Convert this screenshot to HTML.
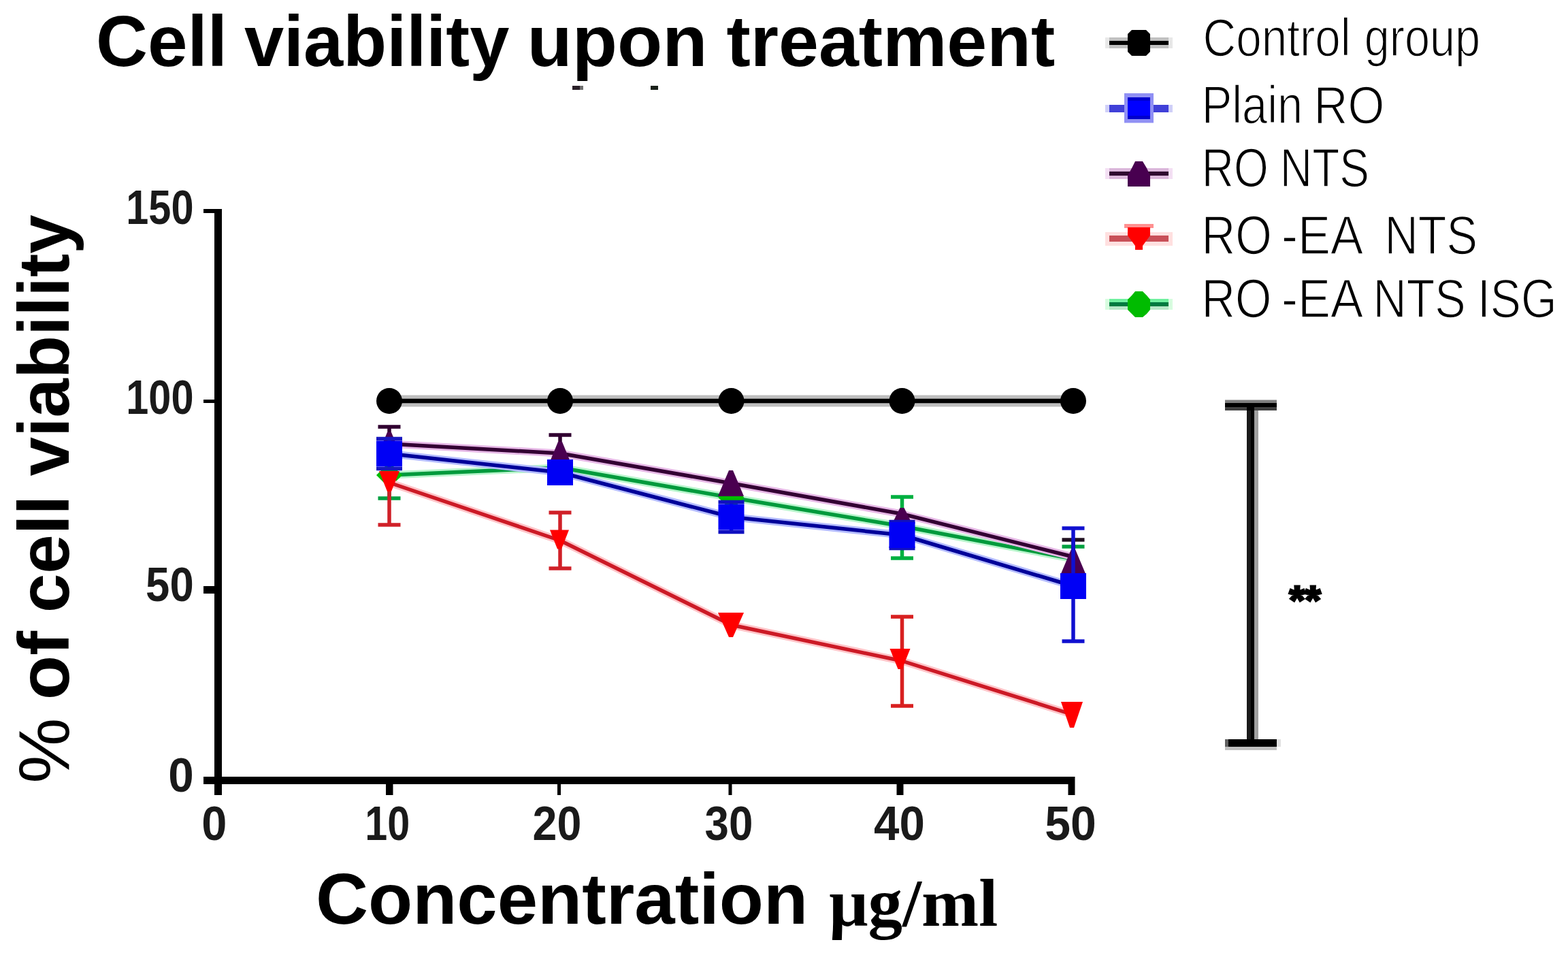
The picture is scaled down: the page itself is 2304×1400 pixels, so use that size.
<!DOCTYPE html>
<html>
<head>
<meta charset="utf-8">
<title>Cell viability upon treatment</title>
<style>
html,body{margin:0;padding:0;background:#fff;}
body{width:2304px;height:1400px;overflow:hidden;}
svg{display:block;}
.b{font-family:"Liberation Sans",Arial,sans-serif;font-weight:bold;}
.r{font-family:"Liberation Sans",Arial,sans-serif;font-weight:normal;}
.s{font-family:"Liberation Serif","Times New Roman",serif;font-weight:bold;}
</style>
</head>
<body>
<svg width="2304" height="1400" viewBox="0 0 2304 1400">
<rect x="0" y="0" width="2304" height="1400" fill="#fff"/>

<!-- Title -->
<text><tspan class="b" x="141.0" y="96.7" font-size="105.5" textLength="192.9" lengthAdjust="spacingAndGlyphs" fill="#000">Cell</tspan> <tspan class="b" x="358.9" y="96.7" font-size="105.5" textLength="389.4" lengthAdjust="spacingAndGlyphs" fill="#000">viability</tspan> <tspan class="b" x="774.4" y="96.7" font-size="105.5" textLength="265.2" lengthAdjust="spacingAndGlyphs" fill="#000">upon</tspan> <tspan class="b" x="1067.5" y="96.7" font-size="105.5" textLength="482.8" lengthAdjust="spacingAndGlyphs" fill="#000">treatment</tspan></text>
<rect x="841" y="126" width="11" height="6" fill="#2a2028"/>
<rect x="852" y="126" width="5" height="6" fill="#707070"/>
<rect x="956" y="126" width="11" height="6" fill="#1a201a"/>

<!-- Y axis label -->
<g transform="translate(0,1150) rotate(-90)">
<text><tspan class="r" x="-0.8" y="101" font-size="106" textLength="96.2" lengthAdjust="spacingAndGlyphs" fill="#000">%</tspan> <tspan class="b" x="121.7" y="101" font-size="106" textLength="101.2" lengthAdjust="spacingAndGlyphs" fill="#000">of</tspan> <tspan class="b" x="249.9" y="101" font-size="106" textLength="172.4" lengthAdjust="spacingAndGlyphs" fill="#000">cell</tspan> <tspan class="b" x="450.5" y="101" font-size="106" textLength="384.2" lengthAdjust="spacingAndGlyphs" fill="#000">viability</tspan></text>
</g>

<!-- X axis label -->
<text><tspan class="b" x="463.9" y="1357.2" font-size="106.5" textLength="723.3" lengthAdjust="spacingAndGlyphs" fill="#000">Concentration</tspan> <tspan class="s" x="1218.3" y="1359.5" font-size="100" textLength="248.0" lengthAdjust="spacingAndGlyphs" fill="#000">μg/ml</tspan></text>

<!-- Axes -->
<g fill="#000">
  <rect x="315" y="307" width="11" height="861"/>
  <rect x="299" y="1141" width="1280.5" height="11"/>
  <rect x="299" y="307" width="16" height="6"/>
  <rect x="299" y="587" width="16" height="5"/>
  <rect x="299" y="861" width="16" height="11"/>
  <rect x="567" y="1152" width="10.5" height="16"/>
  <rect x="819" y="1152" width="5" height="16"/>
  <rect x="1070.5" y="1152" width="5" height="16"/>
  <rect x="1317.5" y="1152" width="10" height="16"/>
  <rect x="1569.5" y="1152" width="10" height="16"/>
</g>

<!-- Tick labels -->
<text><tspan class="b" x="185.3" y="328.7" font-size="70" textLength="99.2" lengthAdjust="spacingAndGlyphs" fill="#1a1a1a">150</tspan></text>
<text><tspan class="b" x="185.3" y="608" font-size="70" textLength="99.2" lengthAdjust="spacingAndGlyphs" fill="#1a1a1a">100</tspan></text>
<text><tspan class="b" x="214.1" y="882.9" font-size="70" textLength="70.6" lengthAdjust="spacingAndGlyphs" fill="#1a1a1a">50</tspan></text>
<text><tspan class="b" x="247.3" y="1162.5" font-size="70" textLength="37.5" lengthAdjust="spacingAndGlyphs" fill="#1a1a1a">0</tspan></text>
<text><tspan class="b" x="296.3" y="1234" font-size="70" textLength="37.1" lengthAdjust="spacingAndGlyphs" fill="#1a1a1a">0</tspan></text>
<text><tspan class="b" x="536.3" y="1234" font-size="70" textLength="66.0" lengthAdjust="spacingAndGlyphs" fill="#1a1a1a">10</tspan></text>
<text><tspan class="b" x="782.5" y="1234" font-size="70" textLength="71.9" lengthAdjust="spacingAndGlyphs" fill="#1a1a1a">20</tspan></text>
<text><tspan class="b" x="1035.6" y="1234" font-size="70" textLength="70.9" lengthAdjust="spacingAndGlyphs" fill="#1a1a1a">30</tspan></text>
<text><tspan class="b" x="1284.0" y="1234" font-size="70" textLength="74.8" lengthAdjust="spacingAndGlyphs" fill="#1a1a1a">40</tspan></text>
<text><tspan class="b" x="1535.3" y="1234" font-size="70" textLength="75.6" lengthAdjust="spacingAndGlyphs" fill="#1a1a1a">50</tspan></text>

<!-- Data -->
<g id="green">
<polyline points="572,698 823,687 1074.5,731 1325.5,773 1577,821" fill="none" stroke="#b8f5cc" stroke-width="11" stroke-linejoin="round"/>
<polyline points="572,698 823,687 1074.5,731 1325.5,773 1577,821" fill="none" stroke="#009a3c" stroke-width="5.5" stroke-linejoin="round"/>
<line x1="572" y1="698" x2="572" y2="732" stroke="#00a040" stroke-width="5.5"/><line x1="555.5" y1="732" x2="588.5" y2="732" stroke="#00a040" stroke-width="5.5"/>
<line x1="1325.5" y1="730" x2="1325.5" y2="820" stroke="#00b040" stroke-width="5.5"/><line x1="1309.0" y1="730" x2="1342.0" y2="730" stroke="#00b040" stroke-width="5.5"/><line x1="1309.0" y1="820" x2="1342.0" y2="820" stroke="#00b040" stroke-width="5.5"/>
<line x1="1577" y1="803" x2="1577" y2="821" stroke="#00a040" stroke-width="5.5"/><line x1="1560.5" y1="803" x2="1593.5" y2="803" stroke="#00a040" stroke-width="5.5"/>
<polygon points="572,679 591,698 572,717 553,698" fill="#00bb00"/>
<polygon points="1074.5,712 1093.5,731 1074.5,750 1055.5,731" fill="#00bb00"/>
</g>
<g id="red">
<polyline points="572,709 823,794 1074.5,918 1325.5,971 1577,1050" fill="none" stroke="#ffc4c8" stroke-width="11" stroke-linejoin="round"/>
<polyline points="572,709 823,794 1074.5,918 1325.5,971 1577,1050" fill="none" stroke="#cc1a26" stroke-width="5.5" stroke-linejoin="round"/>
<line x1="572" y1="709" x2="572" y2="771" stroke="#d02028" stroke-width="5.5"/><line x1="555.5" y1="771" x2="588.5" y2="771" stroke="#d02028" stroke-width="5.5"/>
<line x1="823" y1="753" x2="823" y2="835" stroke="#d02028" stroke-width="5.5"/><line x1="806.5" y1="753" x2="839.5" y2="753" stroke="#d02028" stroke-width="5.5"/><line x1="806.5" y1="835" x2="839.5" y2="835" stroke="#d02028" stroke-width="5.5"/>
<line x1="1325.5" y1="906" x2="1325.5" y2="1037" stroke="#d82020" stroke-width="5.5"/><line x1="1309.0" y1="906" x2="1342.0" y2="906" stroke="#d82020" stroke-width="5.5"/><line x1="1309.0" y1="1037" x2="1342.0" y2="1037" stroke="#d82020" stroke-width="5.5"/>
<polygon points="557.0,692.0 587.0,692.0 575,722.0 569,722.0" fill="#ff0000"/>
<polygon points="808.0,778.5 836.0,778.5 825,806.5 819,806.5" fill="#ff0000"/>
<polygon points="1055.0,900.0 1093.0,900.0 1077,936.0 1071,936.0" fill="#ff0000"/>
<polygon points="1307.5,953.0 1337.5,953.0 1325.5,983.0 1319.5,983.0" fill="#ff0000"/>
<polygon points="1559.0,1031.0 1591.0,1031.0 1578,1069.0 1572,1069.0" fill="#ff0000"/>
</g>
<g id="purple">
<polyline points="572,652 823,666 1074.5,710 1325.5,755 1577,818" fill="none" stroke="#e6b8e6" stroke-width="11" stroke-linejoin="round"/>
<polyline points="572,652 823,666 1074.5,710 1325.5,755 1577,818" fill="none" stroke="#330033" stroke-width="5.5" stroke-linejoin="round"/>
<line x1="572" y1="627" x2="572" y2="652" stroke="#300030" stroke-width="5.5"/><line x1="555.5" y1="627" x2="588.5" y2="627" stroke="#300030" stroke-width="5.5"/>
<line x1="823" y1="639" x2="823" y2="666" stroke="#300030" stroke-width="5.5"/><line x1="806.5" y1="639" x2="839.5" y2="639" stroke="#300030" stroke-width="5.5"/>
<line x1="1577" y1="793" x2="1577" y2="818" stroke="#201020" stroke-width="5.5"/><line x1="1560.5" y1="793" x2="1593.5" y2="793" stroke="#201020" stroke-width="5.5"/>
<polygon points="569,635.0 575,635.0 589.0,669.0 555.0,669.0" fill="#4a0050"/>
<polygon points="820,649.0 826,649.0 840.0,683.0 806.0,683.0" fill="#4a0050"/>
<polygon points="1071,691.0 1077,691.0 1093.0,729.0 1055.0,729.0" fill="#4a0050"/>
<polygon points="1322.5,746.0 1328.5,746.0 1344.5,778.0 1306.5,778.0" fill="#4a0050"/>
<polygon points="1574,807.0 1580,807.0 1596.0,845.0 1558.0,845.0" fill="#4a0050"/>
</g>
<g id="blue">
<polyline points="572,666.5 823,694 1074.5,759.5 1325.5,786 1577,861" fill="none" stroke="#b4bcff" stroke-width="11" stroke-linejoin="round"/>
<polyline points="572,666.5 823,694 1074.5,759.5 1325.5,786 1577,861" fill="none" stroke="#000099" stroke-width="5.5" stroke-linejoin="round"/>
<line x1="1577" y1="776" x2="1577" y2="942" stroke="#1010d0" stroke-width="5.5"/><line x1="1560.5" y1="776" x2="1593.5" y2="776" stroke="#1010d0" stroke-width="5.5"/><line x1="1560.5" y1="942" x2="1593.5" y2="942" stroke="#1010d0" stroke-width="5.5"/>
<line x1="572" y1="644.5" x2="572" y2="688.5" stroke="#1818c0" stroke-width="5.5"/><line x1="553" y1="644.5" x2="591" y2="644.5" stroke="#1818c0" stroke-width="5.5"/><line x1="553" y1="688.5" x2="591" y2="688.5" stroke="#1818c0" stroke-width="5.5"/>
<line x1="1074.5" y1="737.5" x2="1074.5" y2="781.5" stroke="#1010c0" stroke-width="5.5"/><line x1="1055.5" y1="737.5" x2="1093.5" y2="737.5" stroke="#1010c0" stroke-width="5.5"/><line x1="1055.5" y1="781.5" x2="1093.5" y2="781.5" stroke="#1010c0" stroke-width="5.5"/>
<line x1="1325.5" y1="766.5" x2="1325.5" y2="805.5" stroke="#1010c0" stroke-width="5.5"/><line x1="1306.5" y1="766.5" x2="1344.5" y2="766.5" stroke="#1010c0" stroke-width="5.5"/><line x1="1306.5" y1="805.5" x2="1344.5" y2="805.5" stroke="#1010c0" stroke-width="5.5"/>
<rect x="553.0" y="647.5" width="38" height="38" fill="#0000f5"/>
<rect x="804.0" y="675.0" width="38" height="38" fill="#0000f5"/>
<rect x="1055.5" y="740.5" width="38" height="38" fill="#0000f5"/>
<rect x="1306.5" y="767.0" width="38" height="38" fill="#0000f5"/>
<rect x="1558.0" y="842.0" width="38" height="38" fill="#0000f5"/>
</g>
<g id="control">
<line x1="572" y1="589" x2="1577" y2="589" stroke="#bebebe" stroke-width="17"/>
<line x1="572" y1="589" x2="1577" y2="589" stroke="#000" stroke-width="6.5"/>
<circle cx="572" cy="589" r="19" fill="#000"/>
<circle cx="823" cy="589" r="19" fill="#000"/>
<circle cx="1074.5" cy="589" r="19" fill="#000"/>
<circle cx="1325.5" cy="589" r="19" fill="#000"/>
<circle cx="1577" cy="589" r="19" fill="#000"/>
</g>

<!-- Significance bar -->
<g>
  <rect x="1832" y="598" width="6" height="488" fill="#1a1a1a"/>
  <rect x="1838" y="598" width="5" height="488" fill="#000"/>
  <rect x="1843" y="603" width="6" height="483" fill="#a0a0a0"/>
  <rect x="1800" y="587.5" width="76" height="4.5" fill="#808080"/>
  <rect x="1800" y="592" width="76" height="6" fill="#000"/>
  <rect x="1800" y="598" width="76" height="5" fill="#404040"/>
  <rect x="1832" y="598" width="11" height="5" fill="#000"/>
  <rect x="1800" y="1086" width="5" height="11" fill="#606060"/>
  <rect x="1805" y="1086" width="71" height="11" fill="#000"/>
  <rect x="1800" y="1097" width="76" height="5" fill="#c0c0c0"/>
  <rect x="1876" y="1086" width="6" height="11" fill="#e0e0e0"/>
  <text id="stars" class="b" x="1917.5" y="902" font-size="60" fill="#000" stroke="#000" stroke-width="3" text-anchor="middle">**</text>
</g>

<!-- Legend -->
<g id="legend">
  <!-- control -->
  <rect x="1624" y="55" width="99" height="16" fill="#e8e8e8"/>
  <rect x="1630" y="55" width="87" height="16" fill="#c0c0c0"/>
  <rect x="1630" y="60" width="87" height="6" fill="#000"/>
  <polygon points="1663,44 1684,44 1690,50 1690,76 1684,82 1663,82 1657,76 1657,50" fill="#000"/>
  <!-- blue -->
  <rect x="1624" y="154" width="99" height="11" fill="#d0d0f8"/>
  <rect x="1630" y="154" width="87" height="11" fill="#4040d8"/>
  <rect x="1652" y="137" width="43" height="43.5" fill="#9090f4"/>
  <rect x="1657" y="143" width="33" height="32" fill="#0000cc"/>
  <rect x="1657" y="148" width="33" height="22" fill="#0000ff"/>
  <!-- purple -->
  <rect x="1624" y="247" width="99" height="16" fill="#f4e0f4"/>
  <rect x="1630" y="247" width="87" height="16" fill="#dcb8dc"/>
  <rect x="1630" y="252" width="87" height="6" fill="#300830"/>
  <polygon points="1668,237 1679,237 1685,247 1690,258 1690,274 1657,274 1657,258 1663,247" fill="#480050"/>
  <!-- red -->
  <rect x="1624" y="341" width="99" height="20" fill="#ffe0e0"/>
  <rect x="1630" y="346" width="87" height="9" fill="#c85058"/>
  <rect x="1652" y="329" width="43" height="6" fill="#ff9090"/>
  <polygon points="1657,334 1690,334 1690,346 1679,361 1679,367 1668,367 1668,361 1657,346" fill="#ff0000"/>
  <!-- green -->
  <rect x="1624" y="439" width="99" height="16" fill="#d8fce0"/>
  <rect x="1630" y="439" width="87" height="5" fill="#70f0a0"/>
  <rect x="1630" y="450" width="87" height="5" fill="#b8e8c8"/>
  <rect x="1630" y="444" width="87" height="6" fill="#007a40"/>
  <polygon points="1668,428 1679,428 1685,434 1690,440 1690,455 1685,461 1679,466 1668,466 1663,461 1657,455 1657,440 1663,434" fill="#00bb00"/>
</g>
<text><tspan class="r" x="1767.6" y="81.9" font-size="78" textLength="217.2" lengthAdjust="spacingAndGlyphs" fill="#000" stroke="#fff" stroke-width="1.6">Control</tspan> <tspan class="r" x="2004.7" y="81.9" font-size="78" textLength="170.4" lengthAdjust="spacingAndGlyphs" fill="#000" stroke="#fff" stroke-width="1.6">group</tspan></text>
<text><tspan class="r" x="1765.7" y="181.2" font-size="78" textLength="148.5" lengthAdjust="spacingAndGlyphs" fill="#000" stroke="#fff" stroke-width="1.6">Plain</tspan> <tspan class="r" x="1930.5" y="181.2" font-size="78" textLength="103.8" lengthAdjust="spacingAndGlyphs" fill="#000" stroke="#fff" stroke-width="1.6">RO</tspan></text>
<text><tspan class="r" x="1765.8" y="274.2" font-size="80.5" textLength="98.1" lengthAdjust="spacingAndGlyphs" fill="#000" stroke="#fff" stroke-width="1.6">RO</tspan> <tspan class="r" x="1880.8" y="274.2" font-size="80.5" textLength="131.1" lengthAdjust="spacingAndGlyphs" fill="#000" stroke="#fff" stroke-width="1.6">NTS</tspan></text>
<text><tspan class="r" x="1765.5" y="373.1" font-size="80.5" textLength="103.4" lengthAdjust="spacingAndGlyphs" fill="#000" stroke="#fff" stroke-width="1.6">RO</tspan> <tspan class="r" x="1883.0" y="373.1" font-size="80.5" textLength="120.0" lengthAdjust="spacingAndGlyphs" fill="#000" stroke="#fff" stroke-width="1.6">-EA</tspan> <tspan class="r" x="2034.5" y="373.1" font-size="80.5" textLength="136.5" lengthAdjust="spacingAndGlyphs" fill="#000" stroke="#fff" stroke-width="1.6">NTS</tspan></text>
<text><tspan class="r" x="1765.5" y="466.0" font-size="80.5" textLength="103.0" lengthAdjust="spacingAndGlyphs" fill="#000" stroke="#fff" stroke-width="1.6">RO</tspan> <tspan class="r" x="1883.0" y="466.0" font-size="80.5" textLength="120.0" lengthAdjust="spacingAndGlyphs" fill="#000" stroke="#fff" stroke-width="1.6">-EA</tspan> <tspan class="r" x="2017.6" y="466.0" font-size="80.5" textLength="136.2" lengthAdjust="spacingAndGlyphs" fill="#000" stroke="#fff" stroke-width="1.6">NTS</tspan> <tspan class="r" x="2171.0" y="466.0" font-size="80.5" textLength="116.5" lengthAdjust="spacingAndGlyphs" fill="#000" stroke="#fff" stroke-width="1.6">ISG</tspan></text>
</svg>
</body>
</html>
